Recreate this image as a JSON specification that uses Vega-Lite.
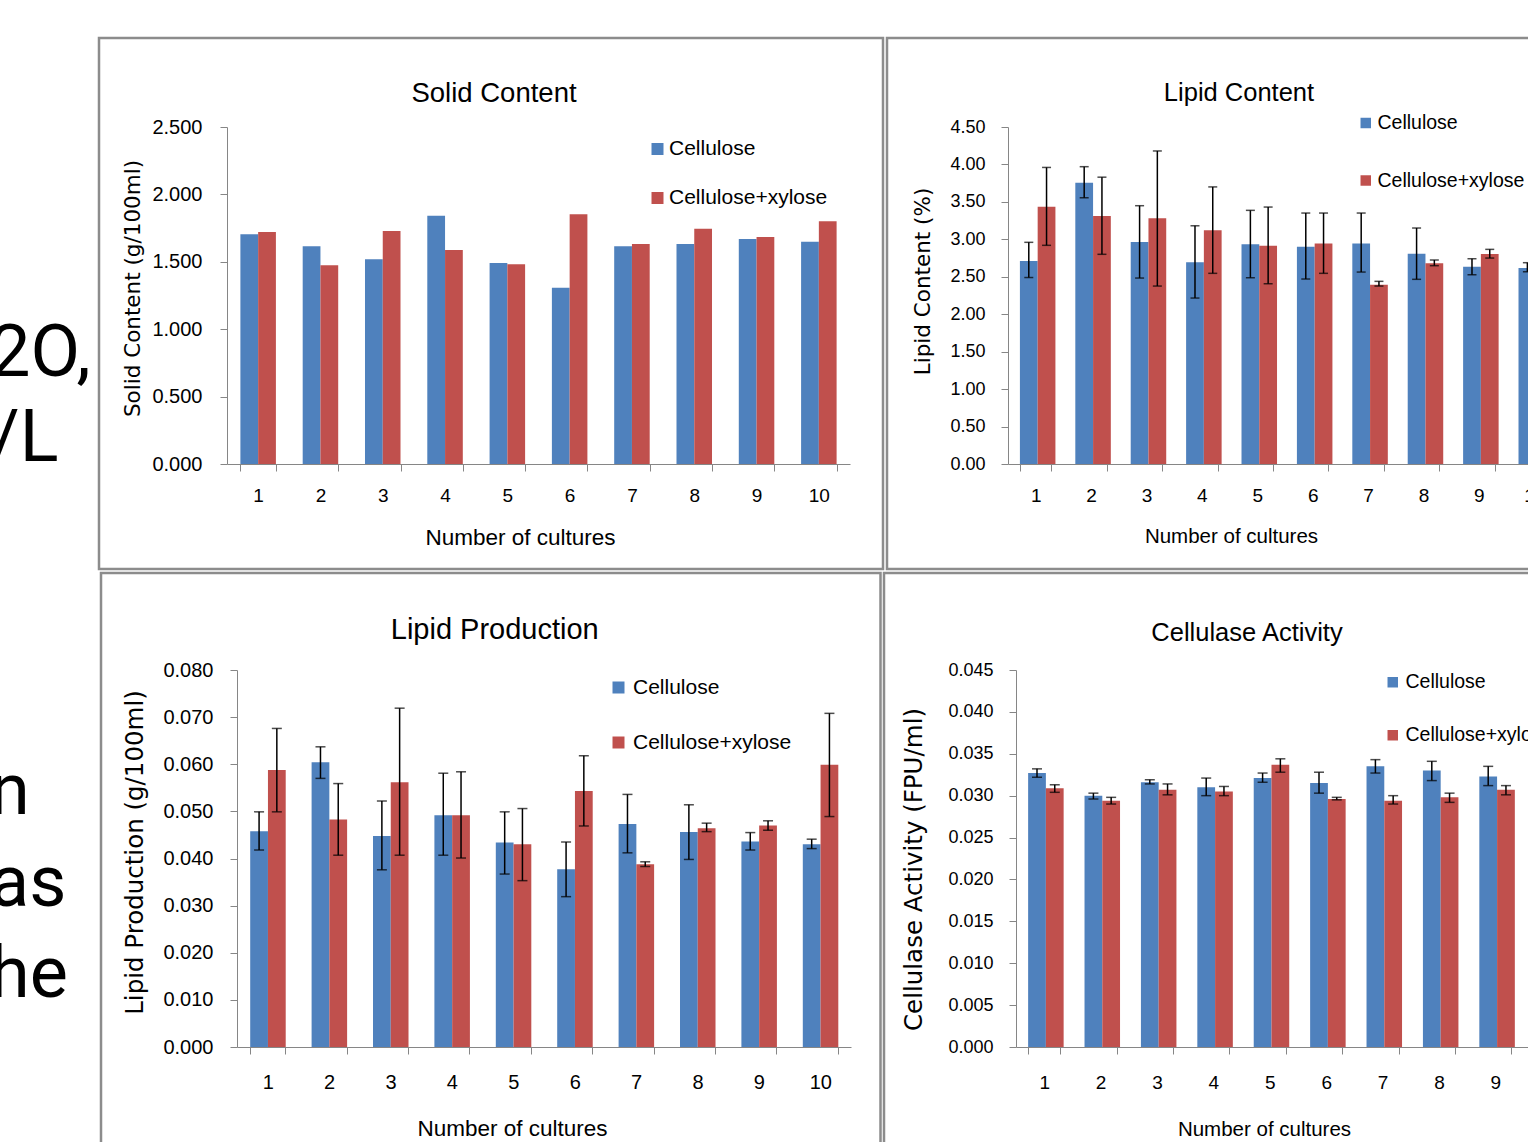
{
  "$schema": "https://vega.github.io/schema/vega-lite/v6.json",
  "padding": {"left": 0, "top": 36, "right": 0, "bottom": 0},
  "autosize": {"type": "pad"},
  "spacing": 0,
  "datasets": {
    "solid": [
      {"culture": "1", "series": "Cellulose", "value": 1.704}, {"culture": "1", "series": "Cellulose+xylose", "value": 1.721},
      {"culture": "2", "series": "Cellulose", "value": 1.615}, {"culture": "2", "series": "Cellulose+xylose", "value": 1.474},
      {"culture": "3", "series": "Cellulose", "value": 1.519}, {"culture": "3", "series": "Cellulose+xylose", "value": 1.728},
      {"culture": "4", "series": "Cellulose", "value": 1.842}, {"culture": "4", "series": "Cellulose+xylose", "value": 1.588},
      {"culture": "5", "series": "Cellulose", "value": 1.491}, {"culture": "5", "series": "Cellulose+xylose", "value": 1.481},
      {"culture": "6", "series": "Cellulose", "value": 1.308}, {"culture": "6", "series": "Cellulose+xylose", "value": 1.852},
      {"culture": "7", "series": "Cellulose", "value": 1.615}, {"culture": "7", "series": "Cellulose+xylose", "value": 1.632},
      {"culture": "8", "series": "Cellulose", "value": 1.632}, {"culture": "8", "series": "Cellulose+xylose", "value": 1.746},
      {"culture": "9", "series": "Cellulose", "value": 1.669}, {"culture": "9", "series": "Cellulose+xylose", "value": 1.684},
      {"culture": "10", "series": "Cellulose", "value": 1.649}, {"culture": "10", "series": "Cellulose+xylose", "value": 1.800}
    ],
    "lipid": [
      {"culture": "1", "series": "Cellulose", "value": 2.71, "lo": 2.49, "hi": 2.96}, {"culture": "1", "series": "Cellulose+xylose", "value": 3.435, "lo": 2.92, "hi": 3.96},
      {"culture": "2", "series": "Cellulose", "value": 3.756, "lo": 3.555, "hi": 3.97}, {"culture": "2", "series": "Cellulose+xylose", "value": 3.31, "lo": 2.80, "hi": 3.83},
      {"culture": "3", "series": "Cellulose", "value": 2.964, "lo": 2.483, "hi": 3.449}, {"culture": "3", "series": "Cellulose+xylose", "value": 3.28, "lo": 2.376, "hi": 4.18},
      {"culture": "4", "series": "Cellulose", "value": 2.693, "lo": 2.216, "hi": 3.181}, {"culture": "4", "series": "Cellulose+xylose", "value": 3.12, "lo": 2.546, "hi": 3.70},
      {"culture": "5", "series": "Cellulose", "value": 2.933, "lo": 2.487, "hi": 3.387}, {"culture": "5", "series": "Cellulose+xylose", "value": 2.915, "lo": 2.407, "hi": 3.431},
      {"culture": "6", "series": "Cellulose", "value": 2.901, "lo": 2.47, "hi": 3.351}, {"culture": "6", "series": "Cellulose+xylose", "value": 2.946, "lo": 2.546, "hi": 3.351},
      {"culture": "7", "series": "Cellulose", "value": 2.946, "lo": 2.563, "hi": 3.351}, {"culture": "7", "series": "Cellulose+xylose", "value": 2.394, "lo": 2.376, "hi": 2.439},
      {"culture": "8", "series": "Cellulose", "value": 2.808, "lo": 2.466, "hi": 3.151}, {"culture": "8", "series": "Cellulose+xylose", "value": 2.68, "lo": 2.648, "hi": 2.724},
      {"culture": "9", "series": "Cellulose", "value": 2.634, "lo": 2.527, "hi": 2.741}, {"culture": "9", "series": "Cellulose+xylose", "value": 2.804, "lo": 2.75, "hi": 2.866},
      {"culture": "10", "series": "Cellulose", "value": 2.617, "lo": 2.567, "hi": 2.688}
    ],
    "production": [
      {"culture": "1", "series": "Cellulose", "value": 0.0458, "lo": 0.0418, "hi": 0.0499}, {"culture": "1", "series": "Cellulose+xylose", "value": 0.0588, "lo": 0.0499, "hi": 0.0676},
      {"culture": "2", "series": "Cellulose", "value": 0.0604, "lo": 0.0570, "hi": 0.0637}, {"culture": "2", "series": "Cellulose+xylose", "value": 0.0483, "lo": 0.0407, "hi": 0.0559},
      {"culture": "3", "series": "Cellulose", "value": 0.0448, "lo": 0.0376, "hi": 0.0522}, {"culture": "3", "series": "Cellulose+xylose", "value": 0.0562, "lo": 0.0407, "hi": 0.0719},
      {"culture": "4", "series": "Cellulose", "value": 0.0492, "lo": 0.0407, "hi": 0.0581}, {"culture": "4", "series": "Cellulose+xylose", "value": 0.0492, "lo": 0.0401, "hi": 0.0584},
      {"culture": "5", "series": "Cellulose", "value": 0.0434, "lo": 0.0367, "hi": 0.0499}, {"culture": "5", "series": "Cellulose+xylose", "value": 0.0430, "lo": 0.0353, "hi": 0.0506},
      {"culture": "6", "series": "Cellulose", "value": 0.0377, "lo": 0.0319, "hi": 0.0435}, {"culture": "6", "series": "Cellulose+xylose", "value": 0.0543, "lo": 0.0469, "hi": 0.0618},
      {"culture": "7", "series": "Cellulose", "value": 0.0473, "lo": 0.0412, "hi": 0.0536}, {"culture": "7", "series": "Cellulose+xylose", "value": 0.0388, "lo": 0.0383, "hi": 0.0393},
      {"culture": "8", "series": "Cellulose", "value": 0.0456, "lo": 0.0398, "hi": 0.0514}, {"culture": "8", "series": "Cellulose+xylose", "value": 0.0464, "lo": 0.0457, "hi": 0.0475},
      {"culture": "9", "series": "Cellulose", "value": 0.0436, "lo": 0.0418, "hi": 0.0455}, {"culture": "9", "series": "Cellulose+xylose", "value": 0.0470, "lo": 0.0460, "hi": 0.0480},
      {"culture": "10", "series": "Cellulose", "value": 0.0430, "lo": 0.0421, "hi": 0.0441}, {"culture": "10", "series": "Cellulose+xylose", "value": 0.0599, "lo": 0.0489, "hi": 0.0708}
    ],
    "cellulase": [
      {"culture": "1", "series": "Cellulose", "value": 0.0327, "lo": 0.0322, "hi": 0.0332}, {"culture": "1", "series": "Cellulose+xylose", "value": 0.0309, "lo": 0.0304, "hi": 0.0313},
      {"culture": "2", "series": "Cellulose", "value": 0.0300, "lo": 0.0296, "hi": 0.0303}, {"culture": "2", "series": "Cellulose+xylose", "value": 0.0294, "lo": 0.0290, "hi": 0.0298},
      {"culture": "3", "series": "Cellulose", "value": 0.0316, "lo": 0.0314, "hi": 0.0319}, {"culture": "3", "series": "Cellulose+xylose", "value": 0.0307, "lo": 0.0301, "hi": 0.0314},
      {"culture": "4", "series": "Cellulose", "value": 0.0310, "lo": 0.0300, "hi": 0.0321}, {"culture": "4", "series": "Cellulose+xylose", "value": 0.0305, "lo": 0.0300, "hi": 0.0311},
      {"culture": "5", "series": "Cellulose", "value": 0.0321, "lo": 0.0316, "hi": 0.0327}, {"culture": "5", "series": "Cellulose+xylose", "value": 0.0337, "lo": 0.0328, "hi": 0.0344},
      {"culture": "6", "series": "Cellulose", "value": 0.0315, "lo": 0.0303, "hi": 0.0328}, {"culture": "6", "series": "Cellulose+xylose", "value": 0.0296, "lo": 0.0295, "hi": 0.0298},
      {"culture": "7", "series": "Cellulose", "value": 0.0335, "lo": 0.0327, "hi": 0.0343}, {"culture": "7", "series": "Cellulose+xylose", "value": 0.0294, "lo": 0.0290, "hi": 0.0300},
      {"culture": "8", "series": "Cellulose", "value": 0.0330, "lo": 0.0318, "hi": 0.0341}, {"culture": "8", "series": "Cellulose+xylose", "value": 0.0298, "lo": 0.0292, "hi": 0.0303},
      {"culture": "9", "series": "Cellulose", "value": 0.0323, "lo": 0.0312, "hi": 0.0335}, {"culture": "9", "series": "Cellulose+xylose", "value": 0.0307, "lo": 0.0301, "hi": 0.0312}
    ]
  },
  "vconcat": [
    {
      "spacing": 0,
      "resolve": {"scale": {"color": "independent"}, "legend": {"color": "independent"}},
      "hconcat": [
        {
          "width": 96.5, "height": 531,
          "data": {"values": [{"line": 4, "text": "2O,"}, {"line": 5, "text": "/L"}]},
          "mark": {"type": "text", "align": "left", "baseline": "alphabetic", "fontSize": 72, "font": "Roboto", "color": "#000", "clip": true, "dx": -10},
          "encoding": {
            "x": {"value": 0},
            "y": {"field": "line", "type": "quantitative", "scale": {"domain": [4, 5], "range": [338, 423]}, "axis": null},
            "text": {"field": "text"}
          }
        },
        {
          "width": 784, "height": 531,
          "view": {"stroke": "#8c8c8c", "strokeWidth": 2.5},
          "title": {"text": "Solid Content", "fontSize": 27.5, "dy": 73, "dx": 3},
          "data": {"name": "solid"},
          "mark": {"type": "bar"},
          "encoding": {
            "x": {"field": "culture", "type": "nominal", "sort": null,
              "scale": {"domain": ["1","2","3","4","5","6","7","8","9","10"], "range": [128, 751], "paddingInner": 0.43, "paddingOuter": 0.215},
              "axis": {"orient": "bottom", "offset": -105, "labelFontSize": 19, "labelPadding": 15, "title": "Number of cultures", "titleFontSize": 22.5, "titleX": 421, "titleY": 80}},
            "xOffset": {"field": "series", "type": "nominal", "scale": {"domain": ["Cellulose", "Cellulose+xylose"]}},
            "y": {"field": "value", "type": "quantitative",
              "scale": {"domain": [0, 2.5], "range": [426, 89], "nice": false},
              "axis": {"orient": "left", "offset": -128, "values": [0, 0.5, 1, 1.5, 2, 2.5], "format": ".3f", "labelFontSize": 20, "labelPadding": 18, "title": "Solid Content (g/100ml)", "titleFontSize": 21.5, "titleX": -88, "titleY": 250}},
            "color": {"field": "series", "type": "nominal",
              "scale": {"domain": ["Cellulose", "Cellulose+xylose"], "range": ["#4F81BD", "#C0504D"]},
              "legend": {"title": null, "orient": "none", "legendX": 548, "legendY": 100.5, "labelFontSize": 21, "symbolSize": 144, "rowPadding": 27, "labelOffset": 1}}
          }
        },
        {
          "width": 786, "height": 531,
          "view": {"stroke": "#8c8c8c", "strokeWidth": 2.5},
          "title": {"text": "Lipid Content", "fontSize": 25.5, "dy": 72.7, "dx": -41},
          "data": {"name": "lipid"},
          "encoding": {
            "x": {"field": "culture", "type": "nominal", "sort": null,
              "scale": {"domain": ["1","2","3","4","5","6","7","8","9","10"], "range": [121, 675], "paddingInner": 0.43, "paddingOuter": 0.215},
              "axis": {"orient": "bottom", "offset": -105, "labelFontSize": 19, "labelPadding": 15, "title": "Number of cultures", "titleFontSize": 20.5, "titleX": 344, "titleY": 78}},
            "xOffset": {"field": "series", "type": "nominal", "scale": {"domain": ["Cellulose", "Cellulose+xylose"]}}
          },
          "layer": [
            {
              "mark": {"type": "bar"},
              "encoding": {
                "y": {"field": "value", "type": "quantitative", "title": "Lipid Content (%)",
                  "scale": {"domain": [0, 4.5], "range": [426, 89], "nice": false},
                  "axis": {"orient": "left", "offset": -121, "values": [0, 0.5, 1, 1.5, 2, 2.5, 3, 3.5, 4, 4.5], "format": ".2f", "labelFontSize": 18, "labelPadding": 16, "titleFontSize": 21.5, "titleX": -79, "titleY": 243}},
                "color": {"field": "series", "type": "nominal",
                  "scale": {"domain": ["Cellulose", "Cellulose+xylose"], "range": ["#4F81BD", "#C0504D"]},
                  "legend": {"title": null, "orient": "none", "legendX": 469, "legendY": 75.25, "labelFontSize": 19.5, "symbolSize": 110, "rowPadding": 36.5, "labelOffset": 2}}
              }
            },
            {
              "mark": {"type": "rule", "color": "#000", "strokeWidth": 1.5},
              "encoding": {
                "y": {"field": "lo", "type": "quantitative", "title": "Lipid Content (%)"},
                "y2": {"field": "hi"}
              }
            },
            {
              "mark": {"type": "tick", "color": "#000", "thickness": 1.5, "size": 9},
              "encoding": {"y": {"field": "lo", "type": "quantitative", "title": "Lipid Content (%)"}}
            },
            {
              "mark": {"type": "tick", "color": "#000", "thickness": 1.5, "size": 9},
              "encoding": {"y": {"field": "hi", "type": "quantitative", "title": "Lipid Content (%)"}}
            }
          ]
        }
      ]
    },
    {
      "spacing": 0,
      "resolve": {"scale": {"color": "independent"}, "legend": {"color": "independent"}},
      "hconcat": [
        {
          "width": 99, "height": 585,
          "data": {"values": [{"line": 9, "text": "n"}, {"line": 10, "text": "as"}, {"line": 11, "text": "he"}]},
          "mark": {"type": "text", "align": "left", "baseline": "alphabetic", "fontSize": 72, "font": "Roboto", "color": "#000", "clip": true, "dx": -10},
          "encoding": {
            "x": {"value": 0},
            "y": {"field": "line", "type": "quantitative", "scale": {"domain": [9, 11], "range": [241, 424]}, "axis": null},
            "text": {"field": "text"}
          }
        },
        {
          "width": 779.5, "height": 585,
          "view": {"stroke": "#8c8c8c", "strokeWidth": 2.5},
          "title": {"text": "Lipid Production", "fontSize": 29, "dy": 75.5, "dx": 4},
          "data": {"name": "production"},
          "encoding": {
            "x": {"field": "culture", "type": "nominal", "sort": null,
              "scale": {"domain": ["1","2","3","4","5","6","7","8","9","10"], "range": [136, 750], "paddingInner": 0.43, "paddingOuter": 0.215},
              "axis": {"orient": "bottom", "offset": -111, "labelFontSize": 20, "labelPadding": 18, "title": "Number of cultures", "titleFontSize": 22.5, "titleX": 411, "titleY": 88}},
            "xOffset": {"field": "series", "type": "nominal", "scale": {"domain": ["Cellulose", "Cellulose+xylose"]}}
          },
          "layer": [
            {
              "mark": {"type": "bar"},
              "encoding": {
                "y": {"field": "value", "type": "quantitative", "title": "Lipid Production (g/100ml)",
                  "scale": {"domain": [0, 0.08], "range": [474, 97], "nice": false},
                  "axis": {"orient": "left", "offset": -136, "values": [0, 0.01, 0.02, 0.03, 0.04, 0.05, 0.06, 0.07, 0.08], "format": ".3f", "labelFontSize": 20, "labelPadding": 17, "titleFontSize": 24.5, "titleX": -95, "titleY": 279}},
                "color": {"field": "series", "type": "nominal",
                  "scale": {"domain": ["Cellulose", "Cellulose+xylose"], "range": ["#4F81BD", "#C0504D"]},
                  "legend": {"title": null, "orient": "none", "legendX": 507, "legendY": 104, "labelFontSize": 21, "symbolSize": 144, "rowPadding": 33, "labelOffset": 4}}
              }
            },
            {
              "mark": {"type": "rule", "color": "#000", "strokeWidth": 1.5},
              "encoding": {
                "y": {"field": "lo", "type": "quantitative", "title": "Lipid Production (g/100ml)"},
                "y2": {"field": "hi"}
              }
            },
            {
              "mark": {"type": "tick", "color": "#000", "thickness": 1.5, "size": 10},
              "encoding": {"y": {"field": "lo", "type": "quantitative", "title": "Lipid Production (g/100ml)"}}
            },
            {
              "mark": {"type": "tick", "color": "#000", "thickness": 1.5, "size": 10},
              "encoding": {"y": {"field": "hi", "type": "quantitative", "title": "Lipid Production (g/100ml)"}}
            }
          ]
        },
        {
          "width": 782, "height": 585,
          "view": {"stroke": "#8c8c8c", "strokeWidth": 2.5},
          "title": {"text": "Cellulase Activity", "fontSize": 25.5, "dy": 77.5, "dx": -28},
          "data": {"name": "cellulase"},
          "encoding": {
            "x": {"field": "culture", "type": "nominal", "sort": null,
              "scale": {"domain": ["1","2","3","4","5","6","7","8","9","10"], "range": [132, 696], "paddingInner": 0.43, "paddingOuter": 0.215},
              "axis": {"orient": "bottom", "offset": -111, "labelFontSize": 19, "labelPadding": 19, "title": "Number of cultures", "titleFontSize": 20.5, "titleX": 380, "titleY": 88}},
            "xOffset": {"field": "series", "type": "nominal", "scale": {"domain": ["Cellulose", "Cellulose+xylose"]}}
          },
          "layer": [
            {
              "mark": {"type": "bar"},
              "encoding": {
                "y": {"field": "value", "type": "quantitative", "title": "Cellulase Activity (FPU/ml)",
                  "scale": {"domain": [0, 0.045], "range": [474, 97], "nice": false},
                  "axis": {"orient": "left", "offset": -132, "values": [0, 0.005, 0.01, 0.015, 0.02, 0.025, 0.03, 0.035, 0.04, 0.045], "format": ".3f", "labelFontSize": 18, "labelPadding": 16, "titleFontSize": 24.5, "titleX": -95, "titleY": 296}},
                "color": {"field": "series", "type": "nominal",
                  "scale": {"domain": ["Cellulose", "Cellulose+xylose"], "range": ["#4F81BD", "#C0504D"]},
                  "legend": {"title": null, "orient": "none", "legendX": 499, "legendY": 99.5, "labelFontSize": 19.5, "symbolSize": 110, "rowPadding": 32, "labelOffset": 3}}
              }
            },
            {
              "mark": {"type": "rule", "color": "#000", "strokeWidth": 1.5},
              "encoding": {
                "y": {"field": "lo", "type": "quantitative", "title": "Cellulase Activity (FPU/ml)"},
                "y2": {"field": "hi"}
              }
            },
            {
              "mark": {"type": "tick", "color": "#000", "thickness": 1.5, "size": 10},
              "encoding": {"y": {"field": "lo", "type": "quantitative", "title": "Cellulase Activity (FPU/ml)"}}
            },
            {
              "mark": {"type": "tick", "color": "#000", "thickness": 1.5, "size": 10},
              "encoding": {"y": {"field": "hi", "type": "quantitative", "title": "Cellulase Activity (FPU/ml)"}}
            }
          ]
        }
      ]
    }
  ],
  "resolve": {"scale": {"color": "independent"}, "legend": {"color": "independent"}},
  "config": {
    "view": {"stroke": null},
    "font": "Liberation Sans",
    "axis": {"domainColor": "#868686", "tickColor": "#868686", "domainWidth": 1, "tickWidth": 1, "tickSize": 7, "grid": false, "labelColor": "#000", "titleColor": "#000", "titleFontWeight": "normal", "labelFont": "Liberation Sans", "titleFont": "Liberation Sans", "labelOverlap": false},
    "axisX": {"tickBand": "extent", "labelAngle": 0, "titleBaseline": "alphabetic"},
    "axisY": {"titleFont": "DejaVu Sans", "titleBaseline": "alphabetic"},
    "legend": {"labelFont": "Liberation Sans", "labelColor": "#000", "symbolType": "square", "padding": 0, "direction": "vertical", "symbolStrokeWidth": 0},
    "title": {"font": "Liberation Sans", "fontWeight": "normal", "color": "#000", "offset": 0, "baseline": "alphabetic", "anchor": "middle"}
  }
}
